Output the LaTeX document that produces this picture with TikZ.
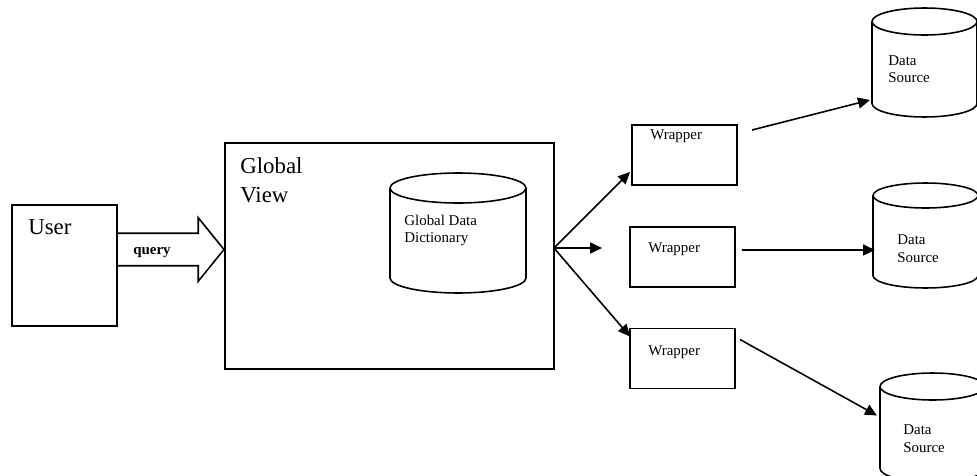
\documentclass[tikz,border=0pt]{standalone}
\usepackage{fontspec}
\setmainfont{Liberation Serif}
\usetikzlibrary{arrows.meta, calc, shapes.arrows}

\tikzset{
  box/.style={draw, line width=0.9pt, rectangle, inner sep=0pt, outer sep=0pt},
  dbase/.style={rectangle, inner sep=0pt, outer sep=0pt},
  link/.style={line width=0.9pt, -{Triangle[length=2.4mm, width=2.2mm]}},
  bigtxt/.style={font=\fontsize{13}{17}\selectfont, anchor=base west, inner sep=0pt, align=left},
  smalltxt/.style={font=\fontsize{8.5}{10}\selectfont, anchor=base west, inner sep=0pt, align=left},
}
% outline of a cylinder round a node: name, x radius, y radius
\newcommand{\dbshape}[3]{%
  \draw[line width=0.9pt] ([yshift=-#3]#1.north west) -- ([yshift=#3]#1.south west)
    arc[start angle=180, end angle=360, x radius=#2, y radius=#3]
    -- ([yshift=-#3]#1.north east);
  \draw[line width=0.9pt] ([yshift=-#3]#1.north) ellipse[x radius=#2, y radius=#3];
}

\begin{document}
\begin{tikzpicture}[x=0.02cm, y=-0.02cm]
\useasboundingbox (0,0) rectangle (977,476);
\clip (0,0) rectangle (977,476);

% boxes
\node[box, minimum width=2.1cm, minimum height=2.42cm] (user) at (64.5,265.5) {};
\node[box, minimum width=6.58cm, minimum height=4.52cm] (gview) at (389.5,256) {};
\node[dbase, minimum width=2.72cm, minimum height=2.4cm] (gdd) at (458,233) {};
\node[box, minimum width=2.1cm, minimum height=1.2cm] (wrap1) at (684.5,155) {};
\node[box, minimum width=2.1cm, minimum height=1.2cm] (wrap2) at (682.5,257) {};
\node[box, minimum width=2.1cm, minimum height=1.2cm] (wrap3) at (682.5,358.5) {};
\node[dbase, minimum width=2.1cm, minimum height=2.18cm] (src1) at (924.5,62.5) {};
\node[dbase, minimum width=2.1cm, minimum height=2.1cm] (src2) at (925.5,235.5) {};
\node[dbase, minimum width=2.1cm, minimum height=2.18cm] (src3) at (932.5,427.5) {};
\dbshape{gdd}{1.36cm}{0.3cm}
\dbshape{src1}{1.05cm}{0.27cm}
\dbshape{src2}{1.05cm}{0.25cm}
\dbshape{src3}{1.05cm}{0.27cm}

% texts
\node[bigtxt] (usertxt) at (28,235) {User};
\node[bigtxt] (gviewtxt) at (240,203) {Global\\View};
\node[smalltxt] (gddtxt) at (404,243) {Global Data\\Dictionary};
\node[smalltxt] (wrap1txt) at (650,140) {Wrapper};
\node[smalltxt] (wrap2txt) at (648,253) {Wrapper};
\node[smalltxt] (wrap3txt) at (648,355) {Wrapper};
\node[smalltxt] (src1txt) at (888,83) {Data\\Source};
\node[smalltxt] (src2txt) at (897,262) {Data\\Source};
\node[smalltxt] (src3txt) at (903,452) {Data\\Source};

% query arrow
\node[single arrow, draw, line width=0.9pt, single arrow head extend=0.31cm,
  single arrow head indent=0pt, single arrow tip angle=102, minimum height=2.14cm,
  inner sep=0.31cm, outer sep=0pt, anchor=tail] (query) at (user.east |- 0,249.5) {};
\node[smalltxt, font=\bfseries\fontsize{8.5}{10}\selectfont] (querytxt) at (133,255) {query};

% connectors
\coordinate (fork) at (gview.east |- 0,248);
\draw[link] (fork) -- ($(wrap1.south west)+(-2,-13)$);
\draw[link, shorten >=0.56cm] (fork) -- (wrap2.west |- fork);
\draw[link] (fork) -- ($(wrap3.north west)+(0,8)$);
\draw[link] ($(wrap1.north east)+(15,5)$) -- ($(src1.south west)+(-2,-17)$);
\draw[link] ($(wrap2.east)+(7,-7)$) -- ($(src2.west)+(2,14.5)$);
\draw[link] ($(wrap3.north east)+(5,11)$) -- ($(src3.west)+(-3,-12)$);
\end{tikzpicture}
\end{document}
